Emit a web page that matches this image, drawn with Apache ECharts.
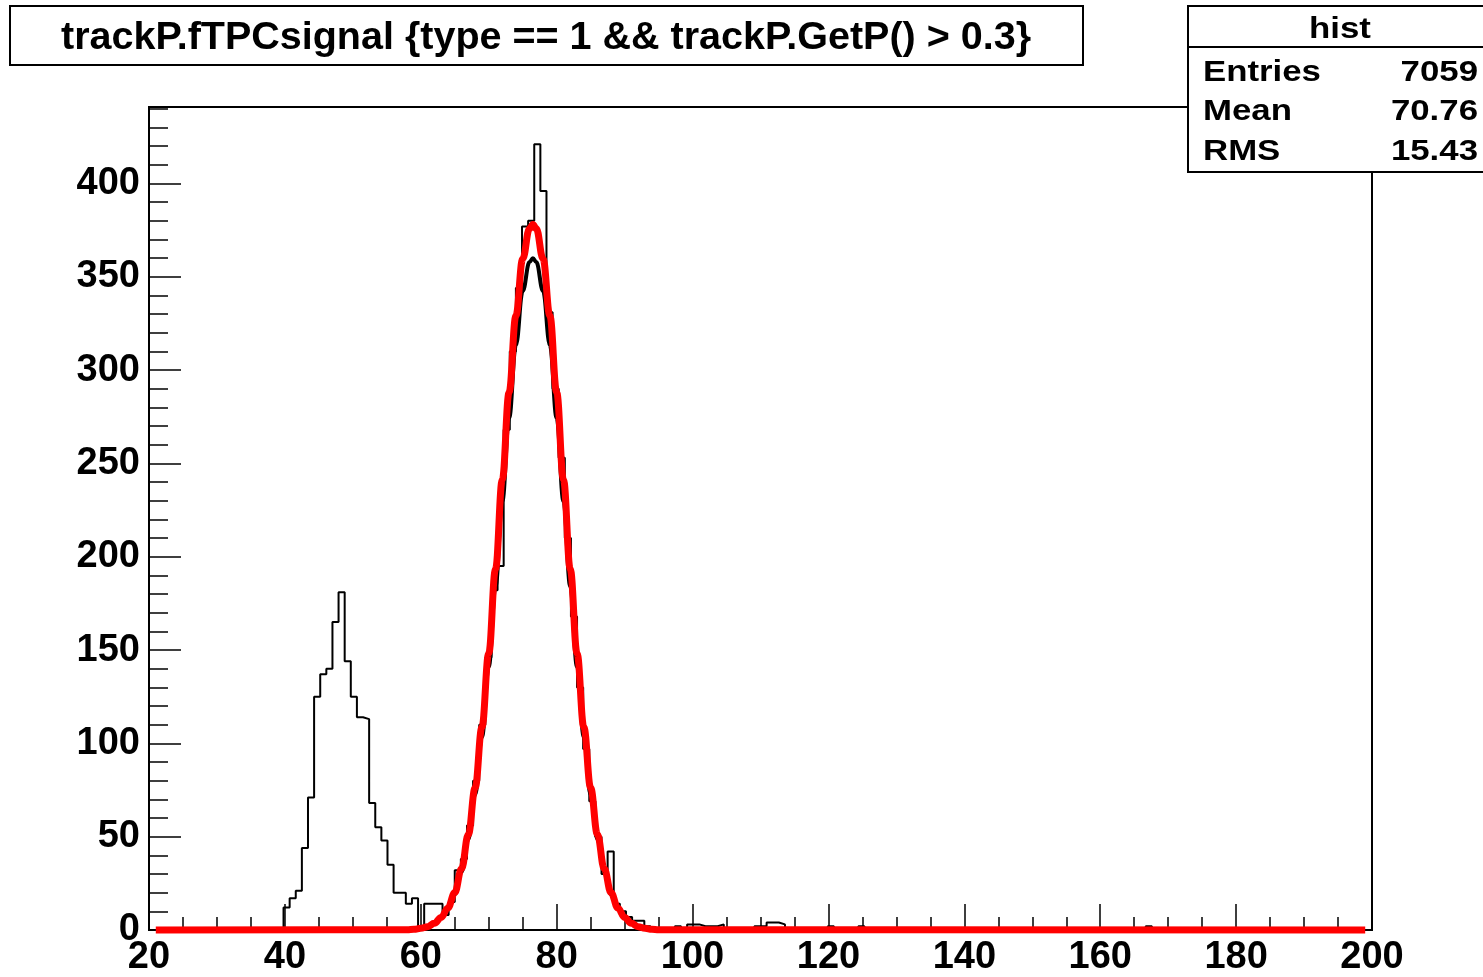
<!DOCTYPE html>
<html><head><meta charset="utf-8">
<script src="https://cdn.jsdelivr.net/npm/echarts@6/dist/echarts.min.js"></script>
<style>html,body{margin:0;padding:0;background:#fff}#c{width:1483px;height:977px}</style>
</head><body><div id="c"></div>
<script>
// ---- data ----
const titleText = 'trackP.fTPCsignal {type == 1 && trackP.GetP() > 0.3}';
const histName = 'hist';
const statsLabels = ['Entries', 'Mean', 'RMS'];
const statsValues = ['7059', '70.76', '15.43'];
const xMin = 20, xMax = 200, nBins = 200;
const counts = [
  0,0,0,0,0,0,0,0,0,0, 0,0,0,0,0,0,0,0,0,0, 0,0,
  12,17,21,44,71,125,137,140,165,181,144,125,114,113,68,55,48,35,20,20,14,17,2,14,14,14,8,15,32,
  38,56,80,110,146,182,195,268,310,344,377,380,421,396,331,290,253,210,168,130,97,69,50,30,42,14,10,7,5,5,2,
  0,1,0,0,2,0,3,3,2,2,2,3,0,0,0,0,0,2,2,4,4,3,
  0,0,0,0,0,0,0,2,0,0,0,0,2,
  0,0,0,0,0,0,0,0,0,0, 0,0,0,0,0,0,0,0,0,0, 0,0,0,0,0,0,0,0,0,0, 0,0,0,0,0,0,0,0,0,0, 0,0,0,0,0,0,
  2,
  0,0,0,0,0,0,0,0,0,0, 0,0,0,0,0,0,0,0,0,0, 0,0,0,0,0,0,0,0,0,0, 0,0,0,0,0,0
];
const fitX   = [21, 58, 59, 60, 61, 62, 63, 64, 65, 66, 67, 68, 69, 70, 71, 72, 73, 74, 75, 76, 76.5, 77, 78, 79, 80, 81, 82, 83, 84, 85, 86, 87, 88, 89, 90, 91, 92, 93, 94, 95, 199];
const fitRed = [0, 0.2, 0.4, 0.9, 1.8, 3.6, 6.7, 11.8, 20.1, 32.8, 51.2, 76.2, 108.6, 148.2, 193.4, 241.3, 288.1, 329.1, 359.6, 375.9, 378, 375.9, 359.6, 329.1, 288.1, 241.3, 193.4, 148.2, 108.6, 76.2, 51.2, 32.8, 20.1, 11.8, 6.7, 3.6, 1.8, 0.9, 0.4, 0.2, 0];
const fitBlackX = [60, 61, 62, 63, 64, 65, 66, 67, 68, 69, 70, 71, 72, 73, 74, 75, 76, 76.5, 77, 78, 79, 80, 81, 82, 83, 84, 85, 86, 87, 88, 89, 90, 91, 92, 93];
const fitBlack  = [0.9, 1.7, 3.4, 6.4, 11.2, 19.1, 31.2, 48.7, 72.5, 103.4, 141.1, 184.1, 229.7, 274.3, 313.3, 342.3, 357.9, 360, 357.9, 342.3, 313.3, 274.3, 229.7, 184.1, 141.1, 103.4, 72.5, 48.7, 31.2, 19.1, 11.2, 6.4, 3.4, 1.7, 0.9];
const yMax = 441;

// ---- build ----
const binW = (xMax - xMin) / nBins;
const histData = counts.map((c, k) => [xMin + k * binW, c]);
histData.push([xMax, counts[counts.length - 1]]);
const redData = fitX.map((x, i) => [x, fitRed[i]]);
const blackData = fitBlackX.map((x, i) => [x, fitBlack[i]]);

const FONT = '"Liberation Sans", Arial, Helvetica, sans-serif';
const gridRect = { left: 149, top: 107, width: 1223, height: 823 };

const chart = echarts.init(document.getElementById('c'), null, { renderer: 'canvas' });

const statsGraphics = [];
statsGraphics.push({ type: 'rect', shape: { x: 1188, y: 6, width: 300, height: 166 }, style: { fill: '#fff', stroke: '#000', lineWidth: 2 }, z: 100 });
statsGraphics.push({ type: 'line', shape: { x1: 1188, y1: 47, x2: 1483, y2: 47 }, style: { stroke: '#000', lineWidth: 2 }, z: 101 });
statsGraphics.push({ type: 'text', x: 1340, y: 30, scaleX: 1.2, style: { text: histName, font: 'bold 29px ' + FONT, fill: '#000', textAlign: 'center', textVerticalAlign: 'middle' }, z: 102 });
const rowY = [73, 112, 152];
statsLabels.forEach((lab, i) => {
  statsGraphics.push({ type: 'text', x: 1203, y: rowY[i], scaleX: 1.2, style: { text: lab, font: 'bold 29px ' + FONT, fill: '#000', textAlign: 'left', textVerticalAlign: 'middle' }, z: 102 });
  statsGraphics.push({ type: 'text', x: 1478, y: rowY[i], scaleX: 1.2, style: { text: statsValues[i], font: 'bold 29px ' + FONT, fill: '#000', textAlign: 'right', textVerticalAlign: 'middle' }, z: 102 });
});

const labelStyle = { fontFamily: FONT, fontWeight: 'bold', fontSize: 38, color: '#000' };

chart.setOption({
  animation: false,
  backgroundColor: '#fff',
  grid: [
    Object.assign({ show: true, borderColor: '#000', borderWidth: 2, backgroundColor: 'transparent' }, gridRect),
    Object.assign({ show: false }, gridRect)
  ],
  xAxis: [
    {
      type: 'value', gridIndex: 0, min: xMin, max: xMax, interval: 20,
      axisLine: { show: false },
      axisTick: { show: true, inside: true, length: 26, lineStyle: { color: '#000', width: 1.5 } },
      minorTick: { show: true, splitNumber: 4, length: 13, lineStyle: { color: '#000', width: 1.5 } },
      splitLine: { show: false }, minorSplitLine: { show: false },
      axisLabel: Object.assign({ margin: 9 }, labelStyle)
    },
    { type: 'value', gridIndex: 1, min: xMin, max: xMax, show: false }
  ],
  yAxis: [
    {
      type: 'value', gridIndex: 0, min: 0, max: yMax, interval: 50,
      axisLine: { show: false },
      axisTick: { show: true, inside: true, length: 32, lineStyle: { color: '#000', width: 1.5 } },
      splitLine: { show: false },
      axisLabel: Object.assign({ margin: 9, showMaxLabel: false, padding: [10, 0, 0, 0] }, labelStyle)
    },
    {
      type: 'value', gridIndex: 1, min: 0, max: yMax, interval: 10, position: 'left',
      axisLine: { show: false },
      axisTick: { show: true, inside: true, length: 19, lineStyle: { color: '#000', width: 1.5 } },
      splitLine: { show: false },
      axisLabel: { show: false }
    }
  ],
  series: [
    {
      type: 'line', xAxisIndex: 0, yAxisIndex: 0, data: histData, step: 'end',
      symbol: 'none', lineStyle: { color: '#000', width: 2 }, z: 2, clip: false
    },
    {
      type: 'line', xAxisIndex: 0, yAxisIndex: 0, data: blackData, smooth: 0.4, smoothMonotone: 'x',
      symbol: 'none', lineStyle: { color: '#000', width: 4 }, z: 3, clip: false
    },
    {
      type: 'line', xAxisIndex: 0, yAxisIndex: 0, data: redData, smooth: 0.4, smoothMonotone: 'x',
      symbol: 'none', lineStyle: { color: '#ff0000', width: 7 }, z: 4, clip: false
    }
  ],
  graphic: [
    { type: 'rect', shape: { x: 10, y: 6, width: 1073, height: 59 }, style: { fill: '#fff', stroke: '#000', lineWidth: 2 }, z: 100 },
    { type: 'text', x: 546, y: 38, style: { text: titleText, font: 'bold 39.5px ' + FONT, fill: '#000', textAlign: 'center', textVerticalAlign: 'middle' }, z: 101 }
  ].concat(statsGraphics)
});
</script>
</body></html>
